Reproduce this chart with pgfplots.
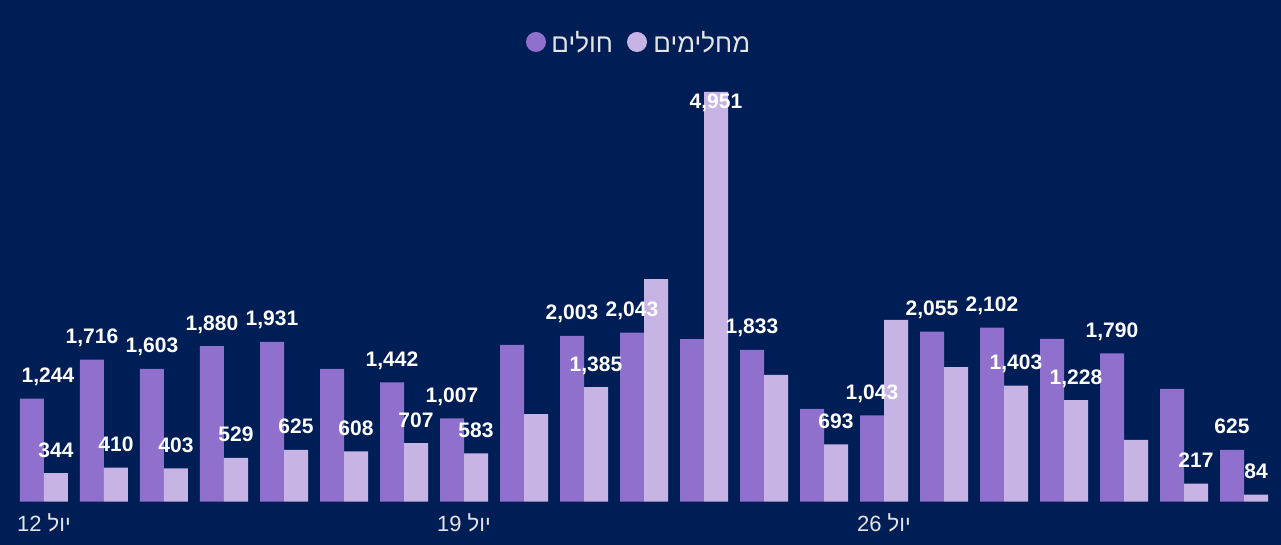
\documentclass[border=0pt]{standalone}
\usepackage{fontspec}
\setmainfont{Liberation Sans}
\newfontfamily\hebfont[Script=Hebrew]{Liberation Sans}
\usepackage{pgfplots}
\pgfplotsset{compat=1.18}
\usepackage{pgfplotstable}
\TeXXeTstate=1
\definecolor{bg}{HTML}{001E56}
\definecolor{sick}{HTML}{8F70CC}
\definecolor{rec}{HTML}{C8B4E4}
\definecolor{ticktxt}{HTML}{E4E4E4}

\pgfplotstableread{
x y lbl
0 1244 \kern16pt1,244
1 1716 1,716
2 1603 1,603
3 1880 1,880
4 1931 1,931
5 1605 {}
6 1442 1,442
7 1007 1,007
8 1895 {}
9 2003 2,003
10 2043 2,043
11 1964 {}
12 1833 1,833
13 1121 {}
14 1043 1,043
15 2055 2,055
16 2102 2,102
17 1967 {}
18 1790 1,790
19 1363 {}
20 625 625
}\sicktab

\pgfplotstableread{
x y lbl
0 344 344
1 410 410
2 403 403
3 529 529
4 625 625
5 608 608
6 707 707
7 583 583
8 1057 {}
9 1385 1,385
10 2689 {}
11 4951 \raisebox{-16.5pt}{4,951}
12 1532 {}
13 693 693
14 2197 {}
15 1625 {}
16 1403 1,403
17 1228 1,228
18 746 {}
19 217 217
20 84 84
}\rectab

\begin{document}
\begin{tikzpicture}
\useasboundingbox (0,0) rectangle (640.5pt,272.5pt);
\fill[bg] (0,0) rectangle (640.5pt,272.5pt);
\begin{axis}[
  at={(7pt,21.65pt)}, anchor=south west,
  scale only axis, width=630pt, height=207pt,
  xmin=-0.5, xmax=20.5, ymin=0, ymax=5000,
  axis x line*=bottom, axis y line=none,
  x axis line style={draw=none},
  ytick=\empty, xtick={0,7,14},
  xticklabels={{\beginR יול \beginL12\endL\endR},{\beginR יול \beginL19\endL\endR},{\beginR יול \beginL26\endL\endR}},
  major tick length=0pt,
  xticklabel style={font=\hebfont\fontsize{11}{13}\selectfont, text=ticktxt, yshift=-2.3pt},
  clip=false,
  lbl/.style={every node near coord/.append style={anchor=base, inner sep=0pt, yshift=8pt, xshift=#1, font=\bfseries\fontsize{10.5}{12}\selectfont, text=white}},
]
\addplot[ybar, bar width=12pt, bar shift=-6pt, fill=sick, draw=none] table[x=x,y=y]{\sicktab};
\addplot[ybar, bar width=12pt, bar shift=6pt, fill=rec, draw=none] table[x=x,y=y]{\rectab};
\addplot[ybar, bar width=12pt, bar shift=-6pt, draw=none, fill=none, point meta=explicit symbolic, nodes near coords, lbl=-6pt] table[x=x,y=y,meta=lbl]{\sicktab};
\addplot[ybar, bar width=12pt, bar shift=6pt, draw=none, fill=none, point meta=explicit symbolic, nodes near coords, lbl=6pt] table[x=x,y=y,meta=lbl]{\rectab};
\end{axis}
% legend
\fill[sick] (268pt,251.5pt) circle (5pt);
\node[anchor=west, inner sep=0pt, text=ticktxt, font=\hebfont\fontsize{13}{15}\selectfont] at (275.5pt,251.5pt) {\beginR חולים\endR};
\fill[rec] (318.5pt,251.5pt) circle (5pt);
\node[anchor=west, inner sep=0pt, text=ticktxt, font=\hebfont\fontsize{13}{15}\selectfont] at (326.5pt,251.5pt) {\beginR מחלימים\endR};
\end{tikzpicture}
\end{document}
